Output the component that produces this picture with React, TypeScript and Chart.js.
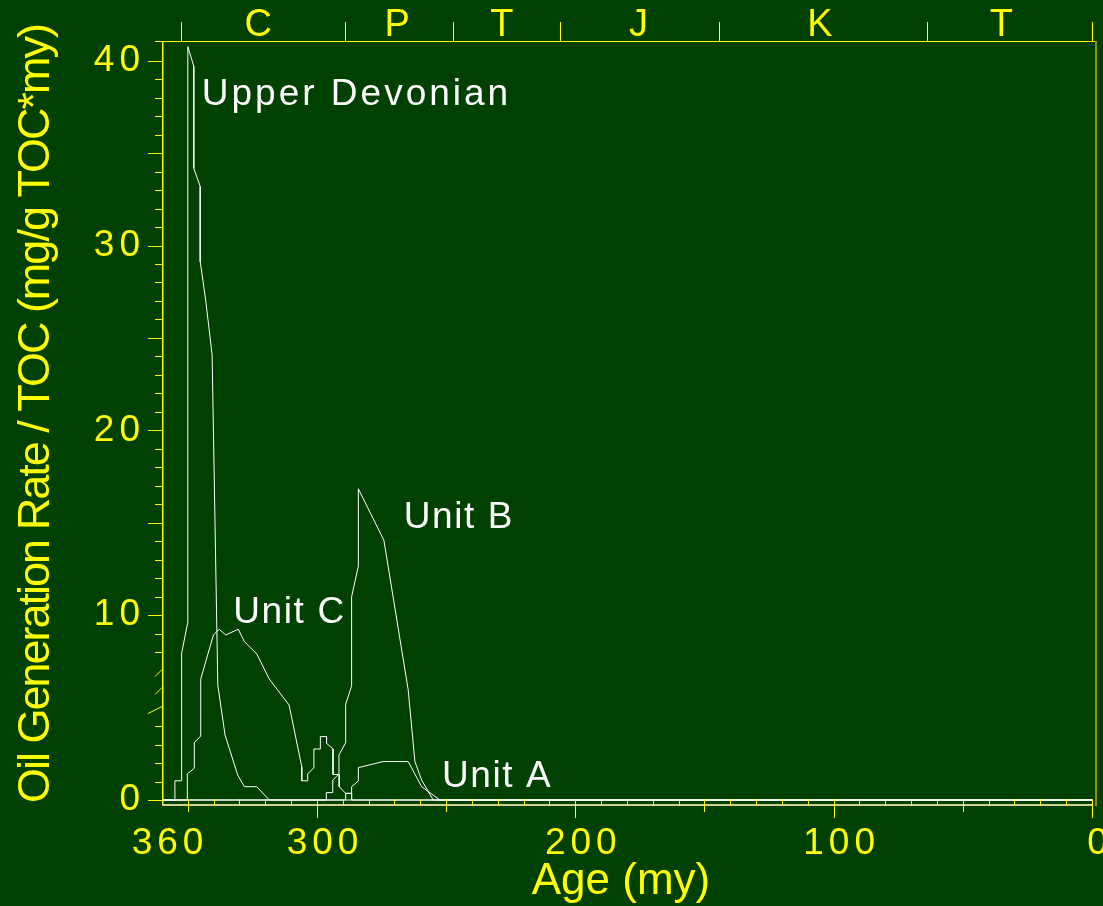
import React, { useEffect, useRef } from "react";
import { Chart, registerables } from "chart.js";

Chart.register(...registerables);

const FONT = '"Liberation Sans", Arial, Helvetica, sans-serif';
const BG = "#004000";
const YELLOW = "#ffff00";
const WHITE = "#ffffff";

// Upper Devonian
const udAges = [360, 355.0, 355.0, 352.4, 352.4, 350.1, 350.0, 347.7, 347.7, 345.2, 345.2, 343.1, 340.6, 338.4, 335.6, 330.7, 328.1, 323.3, 318.5, 0];
const udValues = [0, 0, 1.04, 1.04, 7.94, 9.56, 40.76, 39.7, 34.18, 33.19, 29.13, 27.06, 24.08, 6.22, 3.52, 1.35, 0.72, 0.72, 0, 0];

// Unit C
const unitCAges = [360, 350.2, 350.2, 347.5, 347.5, 345.0, 345.0, 340.1, 337.9, 335.3, 330.5, 328.1, 323.3, 318.5, 310.8, 305.9, 305.9, 303.6, 303.6, 301.2, 301.2, 298.7, 298.7, 296.3, 296.3, 293.8, 293.8, 291.4, 291.4, 288.9, 286.6, 286.6, 0];
const unitCValues = [0, 0, 1.41, 1.72, 3.1, 3.46, 6.55, 8.93, 9.24, 8.93, 9.24, 8.57, 7.9, 6.55, 5.14, 1.8, 1.04, 1.04, 1.41, 1.75, 2.76, 2.76, 3.43, 3.43, 3.07, 2.76, 1.38, 1.38, 0.72, 0.36, 0.36, 0, 0];

// Unit B
const unitBAges = [360, 296.4, 296.4, 293.9, 293.9, 291.5, 291.5, 288.9, 288.9, 286.6, 286.6, 284.0, 284.0, 274.1, 264.7, 262.1, 259.5, 255.0, 0];
const unitBValues = [0, 0, 0.4, 0.4, 1.08, 1.41, 2.44, 3.1, 5.18, 6.18, 11.0, 12.65, 16.84, 14.05, 5.96, 2.08, 1.08, 0, 0];

// Unit A
const unitAAges = [360, 288.9, 288.9, 286.6, 286.6, 284.0, 284.0, 274.4, 264.7, 259.5, 252.4, 0];
const unitAValues = [0, 0, 0.36, 0.36, 0.72, 1.03, 1.75, 2.08, 2.08, 0.72, 0, 0];

// Axis ticks / labels
const xTickLabels = [360, 300, 200, 100, 0];
const yTickLabels = [0, 10, 20, 30, 40];
const periodBoundaries = [352.5, 289, 247.5, 206, 144.5, 64, 0];
const periodNames = ["C", "P", "T", "J", "K", "T"];
const periodLabelAges = [322.8, 269.0, 228.4, 175.5, 105.3, 35.1];

// Curve annotations
const annotationTexts = ["Upper Devonian", "Unit C", "Unit B", "Unit A"];
const annotationAges = [344.6, 332.4, 266.4, 251.6];
const annotationValues = [37.6, 9.56, 14.7, 0.72];

const yTitle = "Oil Generation Rate / TOC (mg/g TOC*my)";
const xTitle = "Age (my)";

function toPoints(ages: number[], values: number[]) {
  return ages.map((a, i) => ({ x: a, y: values[i] }));
}

const decorPlugin = {
  id: "decor",
  beforeDraw(chart: any) {
    const ctx = chart.ctx;
    ctx.save();
    ctx.fillStyle = BG;
    ctx.fillRect(0, 0, chart.width, chart.height);
    ctx.restore();
    ctx.letterSpacing = "5px";
  },
  beforeDatasetsDraw(chart: any) {
    chart.ctx.letterSpacing = "0px";
  },
  afterDraw(chart: any) {
    const ctx = chart.ctx;
    const xs = chart.scales.x;
    const ys = chart.scales.y;
    const { left, right, top, bottom } = chart.chartArea;
    const line = (x1: number, y1: number, x2: number, y2: number) => {
      ctx.beginPath();
      ctx.moveTo(x1, y1);
      ctx.lineTo(x2, y2);
      ctx.stroke();
    };
    ctx.save();
    ctx.letterSpacing = "0px";

    // frame
    ctx.strokeStyle = YELLOW;
    ctx.lineWidth = 1;
    line(left - 7, top + 0.5, right, top + 0.5);
    ctx.lineWidth = 1.5;
    line(left + 0.75, top, left + 0.75, bottom);
    ctx.strokeStyle = "#d2d28c";
    ctx.lineWidth = 2;
    line(left, bottom - 1, right - 5, bottom - 1);
    ctx.strokeStyle = "#8f8f00";
    line(right - 1, top, right - 1, bottom);

    // x ticks
    ctx.strokeStyle = YELLOW;
    ctx.lineWidth = 1;
    const zeroY = ys.getPixelForValue(0);
    for (let a = 0; a <= 350; a += 10) {
      const px = Math.round(xs.getPixelForValue(a)) + 0.5;
      const len = a % 100 === 0 ? 12 : a % 50 === 0 ? 6 : 0;
      line(px, zeroY - 1, px, bottom + len);
    }
    // y ticks
    for (let v = 0; v <= 40; v += 1) {
      const py = Math.round(ys.getPixelForValue(v)) + 0.5;
      const x0 = left - (v % 5 === 0 ? 14 : 7);
      if (v >= 5 && v <= 7) line(x0, py + 5, left, py - 2);
      else line(x0, py, left, py);
    }
    // period boundaries
    for (const b of periodBoundaries) {
      const px = Math.round(xs.getPixelForValue(b)) + 0.5;
      line(px, top, px, top - 19);
    }
    // period labels
    ctx.fillStyle = YELLOW;
    ctx.font = `38px ${FONT}`;
    ctx.textAlign = "center";
    ctx.textBaseline = "alphabetic";
    periodNames.forEach((n, i) => {
      ctx.fillText(n, xs.getPixelForValue(periodLabelAges[i]), 36);
    });

    // axis titles
    ctx.font = `44px ${FONT}`;
    ctx.textAlign = "center";
    ctx.fillText(xTitle, 621, 894);

    ctx.save();
    ctx.font = `45px ${FONT}`;
    ctx.letterSpacing = "-2px";
    ctx.translate(49, 803);
    ctx.rotate(-Math.PI / 2);
    ctx.textAlign = "left";
    ctx.fillText(yTitle, 0, 0);
    ctx.restore();

    // annotations
    ctx.fillStyle = WHITE;
    ctx.font = `37px ${FONT}`;
    ctx.textAlign = "left";
    annotationTexts.forEach((t, i) => {
      ctx.letterSpacing = i === 0 ? "3px" : "1.6px";
      ctx.fillText(t, xs.getPixelForValue(annotationAges[i]), ys.getPixelForValue(annotationValues[i]));
    });
    ctx.restore();
  },
};

export default function App() {
  const ref = useRef<HTMLCanvasElement | null>(null);
  useEffect(() => {
    document.body.style.margin = "0";
    document.body.style.background = BG;
    const canvas = ref.current;
    if (!canvas) return;
    const mk = (ages: number[], values: number[]) => ({
      data: toPoints(ages, values),
      borderColor: WHITE,
      borderWidth: 1,
      pointRadius: 0,
      tension: 0,
      fill: false,
    });
    const chart = new Chart(canvas, {
      type: "line",
      data: {
        datasets: [
          mk(udAges, udValues),
          mk(unitCAges, unitCValues),
          mk(unitBAges, unitBValues),
          mk(unitAAges, unitAValues),
        ] as any,
      },
      options: {
        responsive: false,
        maintainAspectRatio: false,
        animation: false,
        layout: { padding: { top: 41, right: 6, left: 0, bottom: 0 } },
        plugins: { legend: { display: false }, tooltip: { enabled: false } },
        scales: {
          x: {
            type: "linear",
            reverse: true,
            min: -1.94,
            max: 360,
            afterFit: (s: any) => {
              s.height = 100;
              s.paddingLeft = 0;
              s.paddingRight = 0;
            },
            afterBuildTicks: (s: any) => {
              s.ticks = xTickLabels.map((v) => ({ value: v }));
            },
            grid: { display: false, drawTicks: false },
            border: { display: false },
            ticks: {
              color: YELLOW,
              font: { family: FONT, size: 37, lineHeight: 1 },
              padding: 19,
              labelOffset: 8,
              maxRotation: 0,
              autoSkip: false,
              callback: (v: any) => String(v),
            },
          },
          y: {
            min: -0.3246,
            max: 41.066,
            afterFit: (s: any) => {
              s.width = 162;
              s.paddingTop = 0;
              s.paddingBottom = 0;
            },
            afterBuildTicks: (s: any) => {
              s.ticks = yTickLabels.map((v) => ({ value: v }));
            },
            grid: { display: false, drawTicks: false },
            border: { display: false },
            ticks: {
              color: YELLOW,
              font: { family: FONT, size: 37, lineHeight: 1 },
              padding: 17,
              autoSkip: false,
              callback: (v: any) => String(v),
            },
          },
        },
      } as any,
      plugins: [decorPlugin],
    });
    return () => chart.destroy();
  }, []);
  return (
    <div style={{ width: 1103, height: 906, background: BG }}>
      <canvas ref={ref} width={1103} height={906} style={{ display: "block" }} />
    </div>
  );
}
